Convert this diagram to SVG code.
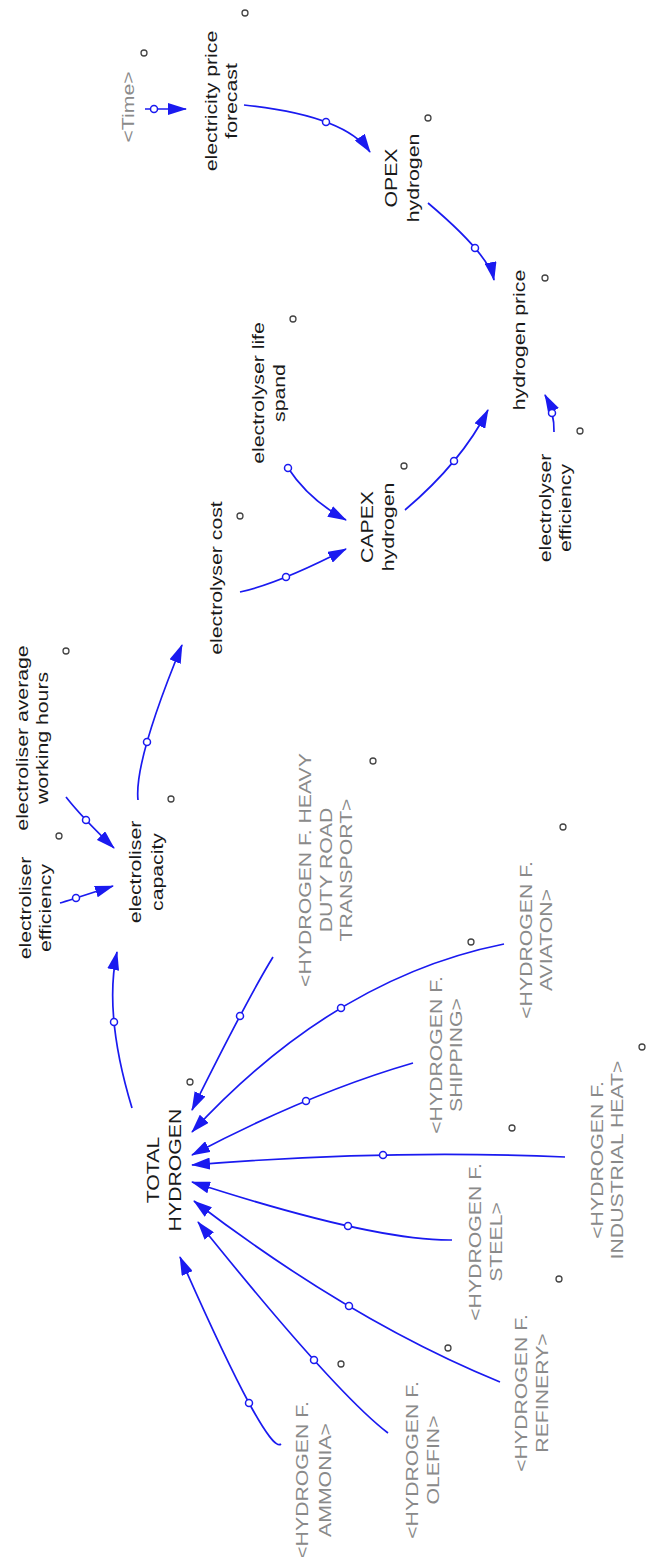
<svg xmlns="http://www.w3.org/2000/svg" width="646" height="1557" viewBox="0 0 646 1557">
<style>
text{font-family:"Liberation Sans",Arial,sans-serif;font-size:17px;text-anchor:middle;dominant-baseline:central}
.v text{fill:#1a1a1a}
.g text{fill:#8a8a8a}
.lk{fill:none;stroke:#1a1af0;stroke-width:1.7;marker-end:url(#ah)}
.pc{fill:#fff;stroke:#1a1af0;stroke-width:1.5}
.sh{fill:none;stroke:#444;stroke-width:1.3}
</style>
<defs>
<marker id="ah" markerUnits="userSpaceOnUse" markerWidth="19" markerHeight="12" refX="18" refY="6" orient="auto">
<path d="M0,0 L19,6 L0,12 z" fill="#1a1af0"/>
</marker>
</defs>
<rect width="646" height="1557" fill="#fff"/>
<g id="connectors">
<path class="lk" d="M145,109 L186,109"/><circle class="pc" cx="154" cy="109" r="3.5"/>
<path class="lk" d="M244,105 Q345,115.5 370,152"/><circle class="pc" cx="326" cy="122" r="3.5"/>
<path class="lk" d="M428,203 Q489,254.5 494,280"/><circle class="pc" cx="475" cy="248" r="3.5"/>
<path class="lk" d="M288,468 Q309,500 346,520"/><circle class="pc" cx="288" cy="468" r="3.5"/>
<path class="lk" d="M240,592 Q279,583.5 346,549"/><circle class="pc" cx="286" cy="577" r="3.5"/>
<path class="lk" d="M405,510 Q461.5,462 488,410"/><circle class="pc" cx="454" cy="461" r="3.5"/>
<path class="lk" d="M554,432 Q554.5,412.5 545,395"/><circle class="pc" cx="552" cy="413" r="3.5"/>
<path class="lk" d="M66,797 Q82,817.5 114,848"/><circle class="pc" cx="86" cy="820" r="3.5"/>
<path class="lk" d="M60,903 Q65.5,901.5 113,886"/><circle class="pc" cx="76" cy="898" r="3.5"/>
<path class="lk" d="M138,800 Q134,761.5 182,645"/><circle class="pc" cx="147" cy="742" r="3.5"/>
<path class="lk" d="M132,1108 Q103.5,1014 117,952"/><circle class="pc" cx="114" cy="1022" r="3.5"/>
<path class="lk" d="M273,957 Q247.5,998.5 192,1110"/><circle class="pc" cx="240" cy="1016" r="3.5"/>
<path class="lk" d="M504,944 Q334,978 192,1132"/><circle class="pc" cx="341" cy="1008" r="3.5"/>
<path class="lk" d="M413,1063 Q309.5,1093 192,1155"/><circle class="pc" cx="306" cy="1101" r="3.5"/>
<path class="lk" d="M565,1157 Q387.5,1149 192,1165"/><circle class="pc" cx="383" cy="1155" r="3.5"/>
<path class="lk" d="M452,1240 Q374,1241 192,1182"/><circle class="pc" cx="348" cy="1226" r="3.5"/>
<path class="lk" d="M500,1382 Q351,1321 194,1201"/><circle class="pc" cx="349" cy="1306" r="3.5"/>
<path class="lk" d="M388,1433 Q335,1392.5 198,1222"/><circle class="pc" cx="314" cy="1360" r="3.5"/>
<path class="lk" d="M281,1444 Q267.5,1455.5 180,1257"/><circle class="pc" cx="249" cy="1403" r="3.5"/>
</g>
<g id="markers">
<circle class="sh" cx="245" cy="13" r="3"/><circle class="sh" cx="144" cy="53" r="3"/>
<circle class="sh" cx="428" cy="118" r="3"/><circle class="sh" cx="545" cy="278" r="3"/>
<circle class="sh" cx="293" cy="319" r="3"/><circle class="sh" cx="240" cy="516" r="3"/>
<circle class="sh" cx="404" cy="466" r="3"/><circle class="sh" cx="580" cy="431" r="3"/>
<circle class="sh" cx="66" cy="651" r="3"/><circle class="sh" cx="59" cy="836" r="3"/>
<circle class="sh" cx="171" cy="799" r="3"/><circle class="sh" cx="373" cy="761" r="3"/>
<circle class="sh" cx="563" cy="827" r="3"/><circle class="sh" cx="190" cy="1082" r="3"/>
<circle class="sh" cx="471" cy="942" r="3"/><circle class="sh" cx="512" cy="1128" r="3"/>
<circle class="sh" cx="642" cy="1047" r="3"/><circle class="sh" cx="559" cy="1279" r="3"/>
<circle class="sh" cx="448" cy="1348" r="3"/><circle class="sh" cx="341" cy="1364" r="3"/>
</g>
<g id="time" class="g" transform="translate(128,107) rotate(-90) scale(1.25,1)"><text x="0" y="0">&lt;Time&gt;</text></g>
<g id="electricity-price-forecast" class="v" transform="translate(221,101) rotate(-90) scale(1.25,1)"><text x="0" y="-10">electricity price</text><text x="0" y="10">forecast</text></g>
<g id="opex-hydrogen" class="v" transform="translate(402,178) rotate(-90) scale(1.25,1)"><text x="0" y="-11">OPEX</text><text x="0" y="11">hydrogen</text></g>
<g id="hydrogen-price" class="v" transform="translate(519,340) rotate(-90) scale(1.25,1)"><text x="0" y="0">hydrogen price</text></g>
<g id="electrolyser-life-spand" class="v" transform="translate(268.5,393) rotate(-90) scale(1.25,1)"><text x="0" y="-10.5">electrolyser life</text><text x="0" y="10.5">spand</text></g>
<g id="electrolyser-cost" class="v" transform="translate(216,578) rotate(-90) scale(1.25,1)"><text x="0" y="0">electrolyser cost</text></g>
<g id="capex-hydrogen" class="v" transform="translate(377.5,527) rotate(-90) scale(1.25,1)"><text x="0" y="-10.5">CAPEX</text><text x="0" y="10.5">hydrogen</text></g>
<g id="electrolyser-efficiency" class="v" transform="translate(555,508) rotate(-90) scale(1.25,1)"><text x="0" y="-10">electrolyser</text><text x="0" y="10">efficiency</text></g>
<g id="electroliser-average-working-hours" class="v" transform="translate(32.5,738) rotate(-90) scale(1.25,1)"><text x="0" y="-10">electroliser average</text><text x="0" y="10">working hours</text></g>
<g id="electroliser-efficiency" class="v" transform="translate(35,908) rotate(-90) scale(1.25,1)"><text x="0" y="-10">electroliser</text><text x="0" y="10">efficiency</text></g>
<g id="electroliser-capacity" class="v" transform="translate(146.5,872) rotate(-90) scale(1.25,1)"><text x="0" y="-11">electroliser</text><text x="0" y="11">capacity</text></g>
<g id="hf-heavy" class="g" transform="translate(326,870) rotate(-90) scale(1.25,1)"><text x="0" y="-20.5">&lt;HYDROGEN F. HEAVY</text><text x="0" y="0">DUTY ROAD</text><text x="0" y="20.5">TRANSPORT&gt;</text></g>
<g id="hf-aviation" class="g" transform="translate(536,940) rotate(-90) scale(1.25,1)"><text x="0" y="-10">&lt;HYDROGEN F.</text><text x="0" y="10">AVIATON&gt;</text></g>
<g id="hf-shipping" class="g" transform="translate(446,1055) rotate(-90) scale(1.25,1)"><text x="0" y="-10">&lt;HYDROGEN F.</text><text x="0" y="10">SHIPPING&gt;</text></g>
<g id="hf-industrial-heat" class="g" transform="translate(607.5,1160) rotate(-90) scale(1.25,1)"><text x="0" y="-10">&lt;HYDROGEN F.</text><text x="0" y="10">INDUSTRIAL HEAT&gt;</text></g>
<g id="total-hydrogen" class="v" transform="translate(164,1170) rotate(-90) scale(1.25,1)"><text x="0" y="-11">TOTAL</text><text x="0" y="11">HYDROGEN</text></g>
<g id="hf-steel" class="g" transform="translate(485.5,1242) rotate(-90) scale(1.25,1)"><text x="0" y="-10.5">&lt;HYDROGEN F.</text><text x="0" y="10.5">STEEL&gt;</text></g>
<g id="hf-refinery" class="g" transform="translate(531.5,1393) rotate(-90) scale(1.25,1)"><text x="0" y="-10.5">&lt;HYDROGEN F.</text><text x="0" y="10.5">REFINERY&gt;</text></g>
<g id="hf-olefin" class="g" transform="translate(422.5,1460) rotate(-90) scale(1.25,1)"><text x="0" y="-10.5">&lt;HYDROGEN F.</text><text x="0" y="10.5">OLEFIN&gt;</text></g>
<g id="hf-ammonia" class="g" transform="translate(313.5,1480) rotate(-90) scale(1.25,1)"><text x="0" y="-11.5">&lt;HYDROGEN F.</text><text x="0" y="11.5">AMMONIA&gt;</text></g>
</svg>
